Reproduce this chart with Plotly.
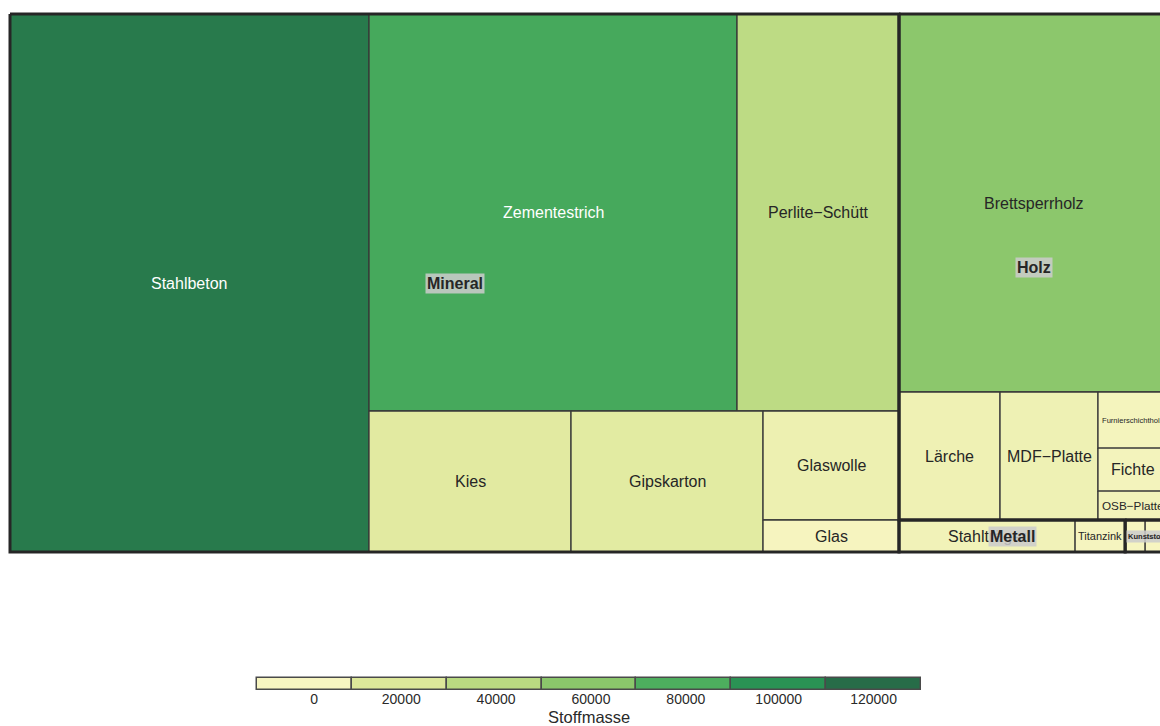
import plotly.graph_objects as go

# ---------------------------------------------------------------------------
# Data: building materials, grouped by material class
# size_vals -> tile area, mass_vals (Stoffmasse) -> tile colour
# ---------------------------------------------------------------------------
groups = ["Mineral", "Mineral", "Mineral", "Mineral", "Mineral", "Mineral", "Mineral",
          "Holz", "Holz", "Holz", "Holz", "Holz", "Holz",
          "Metall", "Metall",
          "Kunststoff", "Kunststoff", "Kunststoff"]
materials = ["Stahlbeton", "Zementestrich", "Perlite−Schütt", "Kies", "Gipskarton",
             "Glaswolle", "Glas",
             "Brettsperrholz", "Lärche", "MDF−Platte", "Furnierschichtholz", "Fichte",
             "OSB−Platte",
             "Stahlträger", "Titanzink",
             "Polyethylen", "Polystyrol", "Polyurethan"]
size_vals = [19314, 14610, 6431, 2848, 2707, 1482, 435,
             10168, 1293, 1254, 392, 301, 203,
             563, 160,
             64, 41, 32]
mass_vals = [113000, 84000, 38000, 16500, 16000, 8000, 800,
             59500, 6500, 6800, 2200, 2800, 3500,
             4500, 1200,
             600, 400, 300]

# colour legend (Stoffmasse)
legend_vals = [0, 20000, 40000, 60000, 80000, 100000, 120000]
legend_colors = ["#F7F5C1", "#DDE89A", "#B9DA81", "#8BC76B", "#4DAE5E", "#2A9354", "#276C48"]
legend_title = "Stoffmasse"

# canvas of the treemap (layout units = pixels)
TM_W, TM_H = 1158, 538
FONT = "Liberation Sans, Arial, Helvetica, sans-serif"
BASE_FS = 16
TEXT_DARK = "#262626"


def hex_rgb(h):
    h = h.lstrip("#")
    return tuple(int(h[i:i + 2], 16) for i in (0, 2, 4))


def mass_color(v):
    """Linear interpolation of the legend palette."""
    if v <= legend_vals[0]:
        return legend_colors[0]
    for i in range(len(legend_vals) - 1):
        a, b = legend_vals[i], legend_vals[i + 1]
        if v <= b:
            t = (v - a) / (b - a)
            c0, c1 = hex_rgb(legend_colors[i]), hex_rgb(legend_colors[i + 1])
            r, g, bl = (round(c0[k] + t * (c1[k] - c0[k])) for k in range(3))
            return f"#{r:02X}{g:02X}{bl:02X}"
    return legend_colors[-1]


def luminance(hexcol):
    r, g, b = hex_rgb(hexcol)
    return (0.299 * r + 0.587 * g + 0.114 * b) / 255


# ---------------------------------------------------------------------------
# Pivot-by-size treemap layout
# ---------------------------------------------------------------------------
def aspect(w, h):
    if w <= 0 or h <= 0:
        return float("inf")
    return max(w / h, h / w)


def pivot_layout(items, x, y, w, h, out):
    """items: list of (key, value) sorted by value (desc)."""
    if not items:
        return
    if len(items) == 1:
        out[items[0][0]] = (x, y, w, h)
        return
    total = sum(v for _, v in items)
    p = max(range(len(items)), key=lambda i: items[i][1])
    piv_key, piv = items[p]
    l1, rest = items[:p], items[p + 1:]
    s1 = sum(v for _, v in l1)
    if w >= h:
        w1 = w * s1 / total
        pivot_layout(l1, x, y, w1, h, out)
        xr = x + w1
        best = None
        for k in range(len(rest) + 1):
            s = piv + sum(v for _, v in rest[:k])
            cw = w * s / total
            ph = h * piv / s
            a = aspect(cw, ph)
            if best is None or a < best[0] - 1e-9:
                best = (a, k, cw, ph)
        _, k, cw, ph = best
        out[piv_key] = (xr, y, cw, ph)
        pivot_layout(rest[:k], xr, y + ph, cw, h - ph, out)
        pivot_layout(rest[k:], xr + cw, y, w - w1 - cw, h, out)
    else:
        h1 = h * s1 / total
        pivot_layout(l1, x, y, w, h1, out)
        yr = y + h1
        best = None
        for k in range(len(rest) + 1):
            s = piv + sum(v for _, v in rest[:k])
            rh = h * s / total
            pw = w * piv / s
            a = aspect(pw, rh)
            if best is None or a < best[0] - 1e-9:
                best = (a, k, rh, pw)
        _, k, rh, pw = best
        out[piv_key] = (x, yr, pw, rh)
        pivot_layout(rest[:k], x + pw, yr, w - pw, rh, out)
        pivot_layout(rest[k:], x, yr + rh, w, h - h1 - rh, out)


group_names = list(dict.fromkeys(groups))
group_tot = {g: sum(s for gg, s in zip(groups, size_vals) if gg == g) for g in group_names}
group_items = sorted(group_tot.items(), key=lambda kv: -kv[1])
group_rects = {}
pivot_layout(group_items, 0, 0, TM_W, TM_H, group_rects)

leaf_rects = {}
for g in group_names:
    items = sorted([(i, size_vals[i]) for i in range(len(materials)) if groups[i] == g],
                   key=lambda kv: -kv[1])
    gx, gy, gw, gh = group_rects[g]
    pivot_layout(items, gx, gy, gw, gh, leaf_rects)

# ---------------------------------------------------------------------------
# Label fitting (Helvetica/Arial advance widths, 1/1000 em)
# ---------------------------------------------------------------------------
W_REG = dict(zip("abcdefghijklmnopqrstuvwxyz",
                 [556, 556, 500, 556, 556, 278, 556, 556, 222, 222, 500, 222, 833,
                  556, 556, 556, 556, 333, 500, 278, 556, 500, 722, 500, 500, 500]))
W_REG.update(zip("ABCDEFGHIJKLMNOPQRSTUVWXYZ",
                 [667, 667, 722, 722, 667, 611, 778, 722, 278, 500, 667, 556, 833,
                  722, 778, 667, 778, 722, 667, 611, 722, 667, 944, 667, 667, 611]))
W_BOLD = dict(zip("abcdefghijklmnopqrstuvwxyz",
                  [556, 611, 556, 611, 556, 333, 611, 611, 278, 278, 556, 278, 889,
                   611, 611, 611, 611, 389, 556, 333, 611, 556, 778, 556, 556, 500]))
W_BOLD.update(zip("ABCDEFGHIJKLMNOPQRSTUVWXYZ",
                  [722, 722, 722, 722, 667, 611, 778, 722, 278, 556, 722, 611, 833,
                   722, 778, 667, 778, 722, 667, 611, 722, 667, 944, 667, 667, 611]))
for d in (W_REG, W_BOLD):
    d.update({"ä": d["a"], "ü": d["u"], "ö": d["o"], "−": 584, "-": 333, " ": 278})


def text_w(s, fs, bold=False):
    table = W_BOLD if bold else W_REG
    return sum(table.get(ch, 556) for ch in s) * fs / 1000


def fit_size(s, w, h, bold=False):
    cex = min(1.0, 0.88 * w / text_w(s, BASE_FS, bold), 0.8 * h / BASE_FS)
    return None if cex < 0.4 else BASE_FS * cex


# ---------------------------------------------------------------------------
# Figure
# ---------------------------------------------------------------------------
fig = go.Figure()
annotations = []

for i, name in enumerate(materials):
    x, y, w, h = leaf_rects[i]
    col = mass_color(mass_vals[i])
    fig.add_trace(go.Scatter(
        x=[x, x + w, x + w, x, x], y=[y, y, y + h, y + h, y],
        mode="lines", fill="toself", fillcolor=col,
        line=dict(color="#383838", width=1.3),
        hoverinfo="text", text=f"{name}<br>{legend_title}: {mass_vals[i]}",
        showlegend=False, xaxis="x", yaxis="y"))
    fs = fit_size(name, w, h)
    if fs:
        annotations.append(dict(
            x=x + w / 2, y=y + h / 2, xref="x", yref="y", text=name, showarrow=False,
            font=dict(family=FONT, size=fs,
                      color="#ffffff" if luminance(col) < 0.55 else TEXT_DARK),
            xanchor="center", yanchor="middle"))

for g in group_names:
    x, y, w, h = group_rects[g]
    fig.add_trace(go.Scatter(
        x=[x, x + w, x + w, x, x], y=[y, y, y + h, y + h, y],
        mode="lines", line=dict(color="#262626", width=3),
        hoverinfo="skip", showlegend=False, xaxis="x", yaxis="y"))
    fs = fit_size(g, w, h, bold=True)
    if fs:
        annotations.append(dict(
            x=x + w / 2, y=y + h / 2, xref="x", yref="y", text=f"<b>{g}</b>",
            showarrow=False, font=dict(family=FONT, size=fs, color=TEXT_DARK),
            bgcolor="rgba(204,204,204,0.86)", borderpad=1,
            xanchor="center", yanchor="middle"))

# colour legend as a row of bins
fig.add_trace(go.Bar(
    x=list(range(len(legend_vals))), y=[1] * len(legend_vals), width=1,
    marker=dict(color=legend_colors, line=dict(color="#4a4a4a", width=1.5)),
    hoverinfo="skip", showlegend=False, xaxis="x2", yaxis="y2"))

# R-style formatted labels (padded to common width)
lab_w = max(len(str(v)) for v in legend_vals)
legend_text = [str(v).rjust(lab_w).replace(" ", "\u00a0") for v in legend_vals]

FIG_W, FIG_H = 1160, 726
px_x = 664 / len(legend_vals)
annotations.append(dict(
    x=589 / FIG_W, y=(FIG_H - 717) / FIG_H, xref="paper", yref="paper",
    text=legend_title, showarrow=False, xanchor="center", yanchor="middle",
    font=dict(family=FONT, size=16.5, color="#2a2a2a")))

fig.update_layout(
    width=FIG_W, height=FIG_H,
    margin=dict(l=0, r=0, t=0, b=0),
    paper_bgcolor="white", plot_bgcolor="white",
    showlegend=False, bargap=0,
    annotations=annotations,
    xaxis=dict(domain=[0, 1], range=[-10, 1150], visible=False, fixedrange=True),
    yaxis=dict(domain=[1 - 570 / FIG_H, 1], range=[556, -14], visible=False,
               fixedrange=True),
    xaxis2=dict(domain=[255 / FIG_W, 923 / FIG_W], anchor="y2",
                range=[-0.5 - 2 / px_x, len(legend_vals) - 0.5 + 2 / px_x],
                tickmode="array", tickvals=list(range(len(legend_vals))),
                ticktext=legend_text, showgrid=False, zeroline=False, showline=False,
                ticks="", ticklabelstandoff=-3,
                tickfont=dict(family=FONT, size=14, color="#2a2a2a"),
                automargin=False, fixedrange=True),
    yaxis2=dict(domain=[34 / FIG_H, 50 / FIG_H], anchor="x2",
                range=[-2 / 12, 1 + 2 / 12], visible=False, fixedrange=True),
)

fig.write_html("out.html")
